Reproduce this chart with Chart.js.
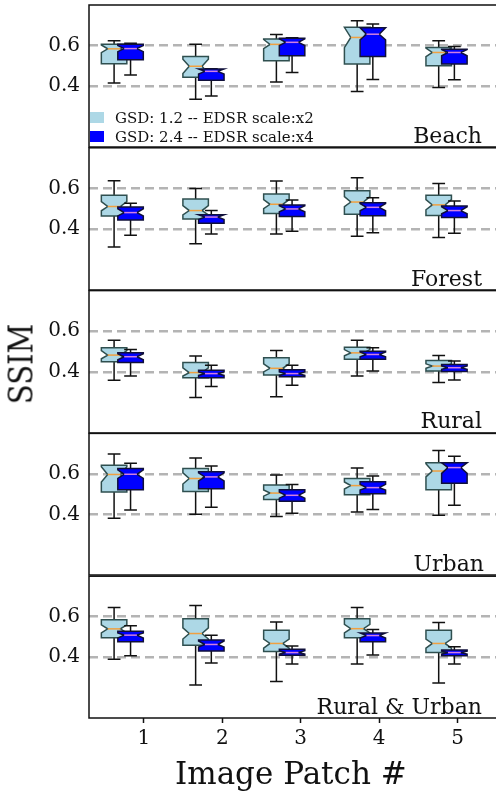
<!DOCTYPE html>
<html><head><meta charset="utf-8">
<script src="https://cdn.jsdelivr.net/npm/chart.js@4/dist/chart.umd.min.js"></script>
<style>
html,body{margin:0;padding:0;background:#fff;}
body{width:496px;height:793px;overflow:hidden;position:relative;font-family:'DejaVu Serif',serif;color:#111;}
canvas{position:absolute;left:0;}
.lbl{position:absolute;white-space:nowrap;line-height:1;}
.sw{position:absolute;width:14px;height:11px;}
</style></head><body>
<script>
// ---------- data ----------
const patchLabels = ['1', '2', '3', '4', '5'];
const patchTicks = [1, 2, 3, 4, 5];
const yTicks = [0.4, 0.6];
const regions = ['Beach', 'Forest', 'Rural', 'Urban', 'Rural & Urban'];
const seriesNames = ['GSD: 1.2 -- EDSR scale:x2', 'GSD: 2.4 -- EDSR scale:x4'];
// box centres on the patch axis
const posGSD12 = [0.62, 1.66, 2.69, 3.72, 4.76];
const posGSD24 = [0.83, 1.86, 2.89, 3.92, 4.96];
// each entry: [whiskerLow, q1, median, q3, whiskerHigh, notchLow, notchHigh]
const beachGSD12 = [[0.416,0.511,0.584,0.607,0.624,0.565,0.603],[0.335,0.444,0.498,0.546,0.607,0.462,0.533],[0.421,0.525,0.606,0.633,0.655,0.585,0.630],[0.373,0.509,0.640,0.690,0.722,0.590,0.690],[0.393,0.501,0.566,0.590,0.624,0.545,0.588]];
const beachGSD24 = [[0.455,0.530,0.585,0.607,0.611,0.570,0.600],[0.351,0.429,0.473,0.485,0.486,0.460,0.485],[0.467,0.550,0.616,0.636,0.639,0.600,0.633],[0.433,0.546,0.656,0.688,0.706,0.628,0.688],[0.431,0.509,0.566,0.582,0.595,0.550,0.580]];
const forestGSD12 = [[0.312,0.464,0.511,0.567,0.638,0.490,0.535],[0.328,0.450,0.491,0.548,0.600,0.470,0.515],[0.376,0.476,0.522,0.572,0.636,0.500,0.545],[0.364,0.473,0.533,0.589,0.652,0.510,0.560],[0.359,0.467,0.519,0.567,0.624,0.495,0.545]];
const forestGSD24 = [[0.369,0.445,0.481,0.508,0.527,0.465,0.500],[0.376,0.428,0.459,0.470,0.491,0.447,0.470],[0.389,0.462,0.499,0.519,0.543,0.485,0.515],[0.382,0.465,0.507,0.530,0.554,0.490,0.525],[0.379,0.457,0.491,0.514,0.538,0.475,0.510]];
const ruralGSD12 = [[0.359,0.450,0.483,0.519,0.556,0.465,0.505],[0.275,0.372,0.397,0.446,0.478,0.380,0.420],[0.278,0.385,0.418,0.470,0.506,0.400,0.440],[0.380,0.462,0.494,0.522,0.556,0.480,0.510],[0.348,0.405,0.429,0.457,0.481,0.418,0.440]];
const ruralGSD24 = [[0.380,0.446,0.475,0.494,0.511,0.460,0.490],[0.328,0.372,0.392,0.408,0.433,0.383,0.400],[0.335,0.376,0.392,0.411,0.433,0.383,0.400],[0.405,0.462,0.486,0.502,0.519,0.475,0.498],[0.361,0.402,0.421,0.437,0.454,0.413,0.430]];
const urbanGSD12 = [[0.381,0.510,0.597,0.642,0.698,0.560,0.635],[0.400,0.513,0.577,0.626,0.679,0.550,0.605],[0.389,0.473,0.505,0.545,0.594,0.490,0.520],[0.411,0.497,0.542,0.577,0.629,0.525,0.560],[0.395,0.522,0.614,0.655,0.715,0.585,0.650]];
const urbanGSD24 = [[0.421,0.521,0.598,0.626,0.653,0.578,0.620],[0.435,0.526,0.585,0.610,0.639,0.565,0.605],[0.405,0.465,0.494,0.521,0.548,0.480,0.510],[0.424,0.502,0.532,0.561,0.589,0.520,0.548],[0.445,0.553,0.631,0.655,0.687,0.602,0.655]];
const ruralUrbanGSD12 = [[0.390,0.496,0.540,0.585,0.646,0.520,0.560],[0.263,0.459,0.517,0.590,0.655,0.490,0.545],[0.280,0.428,0.468,0.533,0.574,0.445,0.490],[0.366,0.496,0.541,0.590,0.646,0.520,0.562],[0.273,0.423,0.468,0.533,0.572,0.445,0.490]];
const ruralUrbanGSD24 = [[0.407,0.476,0.509,0.528,0.556,0.495,0.520],[0.371,0.431,0.463,0.485,0.509,0.450,0.480],[0.366,0.410,0.423,0.439,0.455,0.415,0.432],[0.411,0.476,0.507,0.520,0.537,0.495,0.520],[0.366,0.407,0.423,0.436,0.452,0.415,0.430]];

const panelStats12 = [beachGSD12, forestGSD12, ruralGSD12, urbanGSD12, ruralUrbanGSD12];
const panelStats24 = [beachGSD24, forestGSD24, ruralGSD24, urbanGSD24, ruralUrbanGSD24];

// ---------- styles / layout ----------
const FILL = ['#add8e6', '#0000ff'];
const EDGE = ['#2f4f4f', '#10103a'];
const MED = ['#f0a040', '#d27fe0'];
const BOX_W = 0.325;
const CANVAS_W = 514;
const AREA_LEFT = 89;
const AREA_H = 142;
const X_AXIS_H = 75;
const panelTop = k => 5 + 142.8 * k;

const boxPlugin = {
  id: 'notchedBoxes',
  afterDatasetsDraw(chart) {
    const ctx = chart.ctx, xs = chart.scales.x, ys = chart.scales.y;
    const Y = v => ys.getPixelForValue(v);
    chart.data.datasets.forEach(ds => {
      ds.data.forEach((pt, i) => {
        const [lo, q1, med, q3, hi, nlo, nhi] = ds.stats[i];
        const px = xs.getPixelForValue(pt.x);
        const half = xs.getPixelForValue(pt.x + BOX_W / 2) - px;
        const L = px - half, R = px + half, cl = px - half / 2, cr = px + half / 2;
        ctx.save();
        ctx.lineWidth = 1.5;
        ctx.strokeStyle = '#111';
        ctx.beginPath();
        ctx.moveTo(px, Y(q1)); ctx.lineTo(px, Y(lo));
        ctx.moveTo(px, Y(q3)); ctx.lineTo(px, Y(hi));
        ctx.moveTo(cl, Y(lo)); ctx.lineTo(cr, Y(lo));
        ctx.moveTo(cl, Y(hi)); ctx.lineTo(cr, Y(hi));
        ctx.stroke();
        ctx.beginPath();
        ctx.moveTo(L, Y(q1)); ctx.lineTo(R, Y(q1)); ctx.lineTo(R, Y(nlo));
        ctx.lineTo(cr, Y(med)); ctx.lineTo(R, Y(nhi)); ctx.lineTo(R, Y(q3));
        ctx.lineTo(L, Y(q3)); ctx.lineTo(L, Y(nhi)); ctx.lineTo(cl, Y(med));
        ctx.lineTo(L, Y(nlo)); ctx.closePath();
        ctx.fillStyle = ds.boxFill; ctx.fill();
        ctx.strokeStyle = ds.boxEdge; ctx.stroke();
        ctx.beginPath();
        ctx.moveTo(cl, Y(med)); ctx.lineTo(cr, Y(med));
        ctx.strokeStyle = ds.medianColor; ctx.lineWidth = 1.5; ctx.stroke();
        ctx.restore();
      });
    });
  },
  afterDraw(chart) {
    const { ctx, chartArea: a } = chart;
    ctx.save();
    ctx.strokeStyle = '#111';
    ctx.lineWidth = 1.5;
    ctx.strokeRect(a.left, a.top, a.right - a.left, a.bottom - a.top);
    ctx.restore();
  }
};

function addText(text, css) {
  const d = document.createElement('div');
  d.className = 'lbl';
  d.textContent = text;
  Object.assign(d.style, css);
  document.body.appendChild(d);
  return d;
}

const noPad = s => { s.paddingTop = 0; s.paddingBottom = 0; s.paddingLeft = 0; s.paddingRight = 0; };

regions.forEach((name, k) => {
  const last = k === regions.length - 1;
  const top = panelTop(k);
  const cTop = Math.floor(top) - 4;
  const padTop = top - cTop;
  const h = padTop + AREA_H + (last ? X_AXIS_H : 4);
  const cv = document.createElement('canvas');
  cv.width = CANVAS_W; cv.height = Math.round(h);
  cv.style.top = cTop + 'px';
  document.body.appendChild(cv);

  const mk = (si, pos, stats) => ({
    label: seriesNames[si],
    data: pos.map((p, i) => ({ x: p, y: stats[i][2] })),
    stats: stats,
    boxFill: FILL[si], boxEdge: EDGE[si], medianColor: MED[si],
    pointRadius: 0, showLine: false
  });

  new Chart(cv, {
    type: 'scatter',
    data: { datasets: [mk(0, posGSD12, panelStats12[k]), mk(1, posGSD24, panelStats24[k])] },
    options: {
      responsive: false, animation: false, devicePixelRatio: 1,
      layout: { padding: { top: padTop, bottom: last ? 0 : 4, left: 0, right: 1.6 } },
      plugins: { legend: { display: false }, tooltip: { enabled: false } },
      scales: {
        x: {
          type: 'linear', min: 0.3, max: 5.7, display: last,
          afterBuildTicks: s => { s.ticks = patchTicks.map(v => ({ value: v })); },
          afterFit: s => { s.height = last ? X_AXIS_H : 0; noPad(s); },
          ticks: { callback: (v, i) => patchLabels[i], color: '#111', padding: 4, maxRotation: 0,
                   font: { family: 'DejaVu Serif', size: 20 } },
          grid: { drawOnChartArea: false, drawTicks: true, tickLength: 5, tickColor: '#111', tickWidth: 1.5 },
          border: { display: false }
        },
        y: {
          type: 'linear', min: 0.1, max: 0.8,
          afterBuildTicks: s => { s.ticks = yTicks.map(v => ({ value: v })); },
          afterFit: s => { s.width = AREA_LEFT; noPad(s); },
          ticks: { callback: v => v.toFixed(1), color: '#111', padding: 9,
                   font: { family: 'DejaVu Serif', size: 20 } },
          grid: { color: '#b4b4b4', lineWidth: 2.5, drawTicks: false },
          border: { display: false, dash: [9, 5] }
        }
      }
    },
    plugins: [boxPlugin]
  });

  // region name, bottom-right inside the panel
  const baseline = top + AREA_H - 3.5;
  addText(name, { fontSize: '22px', top: (baseline - 0.846 * 22) + 'px', right: (name === 'Urban' ? 12 : 14) + 'px' });
});

// legend (inside first panel)
seriesNames.forEach((n, i) => {
  const base = 124 + 19 * i;
  const sw = document.createElement('div');
  sw.className = 'sw';
  sw.style.left = '90px';
  sw.style.top = (112 + 19 * i) + 'px';
  sw.style.background = FILL[i];
  document.body.appendChild(sw);
  addText(n, { fontSize: '15px', left: '115px', top: (base - 0.846 * 15) + 'px' });
});

// axis titles
addText('Image Patch #', { fontSize: '31px', left: '175px', top: (784 - 0.846 * 31) + 'px', transformOrigin: '0 0', transform: 'scaleX(1.0)' });
const ss = addText('SSIM', { fontSize: '33px', left: '20.5px', top: '364px', transform: 'translate(-50%,-50%) rotate(-90deg) scaleX(0.88)' });
</script>
</body></html>
